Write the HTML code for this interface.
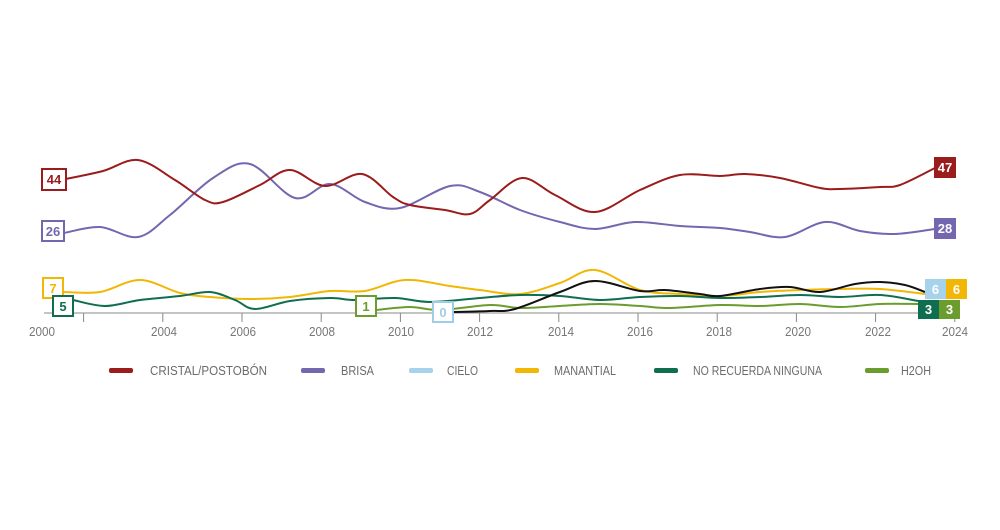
<!DOCTYPE html>
<html><head><meta charset="utf-8"><style>
html,body{margin:0;padding:0;background:#fff;}
svg{display:block;font-family:"Liberation Sans Narrow","Liberation Sans",sans-serif;}
</style></head><body>
<svg id="s" width="1000" height="530" viewBox="0 0 1000 530">
<g stroke="#888" stroke-width="1">
<line x1="44" y1="313" x2="955" y2="313"/>
</g>
<g id="ticks" stroke="#888" stroke-width="1"></g>
<g font-size="12.5" fill="#777" id="yl"></g>
<g id="lines" fill="none" stroke-width="2"></g>
<g font-size="13" font-weight="bold" text-anchor="middle">
<rect x="42" y="169" width="24" height="21" fill="#fff" stroke="#9b1c1c" stroke-width="2"/><text x="54" y="184" fill="#9b1c1c">44</text>
<rect x="42" y="221" width="22" height="20" fill="#fff" stroke="#7467b0" stroke-width="2"/><text x="53" y="236" fill="#7467b0">26</text>
<rect x="43" y="278" width="20" height="20" fill="#fff" stroke="#f2b705" stroke-width="2"/><text x="53" y="293" fill="#f2b705">7</text>
<rect x="53" y="296" width="20" height="20" fill="#fff" stroke="#0f6e4f" stroke-width="2"/><text x="63" y="311" fill="#0f6e4f">5</text>
<rect x="356" y="296" width="20" height="20" fill="#fff" stroke="#6a9c2e" stroke-width="2"/><text x="366" y="311" fill="#6a9c2e">1</text>
<rect x="433" y="302" width="20" height="20" fill="#fff" stroke="#9fcde8" stroke-width="2"/><text x="443" y="317" fill="#9fcde8">0</text>
<rect x="934" y="157" width="22" height="21" fill="#9b1c1c"/><text x="945" y="172" fill="#fff">47</text>
<rect x="934" y="218" width="22" height="21" fill="#7467b0"/><text x="945" y="233" fill="#fff">28</text>
<rect x="925" y="279" width="21" height="20" fill="#a6d2ec"/><text x="935.5" y="294" fill="#fff">6</text>
<rect x="946" y="279" width="21" height="20" fill="#f2b705"/><text x="956.5" y="294" fill="#fff">6</text>
<rect x="918" y="300" width="21" height="19" fill="#0f6e4f"/><text x="928.5" y="314" fill="#fff">3</text>
<rect x="939" y="300" width="21" height="19" fill="#6a9c2e"/><text x="949.5" y="314" fill="#fff">3</text>
</g>
<g font-size="12.5" fill="#6b6b6b">
<rect x="109" y="368" width="24" height="5" rx="2" fill="#9b1c1c"/><text x="150" y="375" textLength="117" lengthAdjust="spacingAndGlyphs">CRISTAL/POSTOBÓN</text>
<rect x="301" y="368" width="24" height="5" rx="2" fill="#7467b0"/><text x="341" y="375" textLength="33" lengthAdjust="spacingAndGlyphs">BRISA</text>
<rect x="409" y="368" width="24" height="5" rx="2" fill="#a6d2ec"/><text x="447" y="375" textLength="31" lengthAdjust="spacingAndGlyphs">CIELO</text>
<rect x="515" y="368" width="24" height="5" rx="2" fill="#f2b705"/><text x="554" y="375" textLength="62" lengthAdjust="spacingAndGlyphs">MANANTIAL</text>
<rect x="654" y="368" width="24" height="5" rx="2" fill="#0f6e4f"/><text x="693" y="375" textLength="129" lengthAdjust="spacingAndGlyphs">NO RECUERDA NINGUNA</text>
<rect x="865" y="368" width="24" height="5" rx="2" fill="#6a9c2e"/><text x="901" y="375" textLength="30" lengthAdjust="spacingAndGlyphs">H2OH</text>
</g>
</svg>
<script>
var ns="http://www.w3.org/2000/svg";
var t=document.getElementById("ticks");
for(var y=2001;y<=2023;y+=2){var x=44+(y-2000)*39.6;var l=document.createElementNS(ns,"line");l.setAttribute("x1",x);l.setAttribute("x2",x);l.setAttribute("y1",313);l.setAttribute("y2",322);t.appendChild(l);}
var yl=document.getElementById("yl");
var xs={2000:42,2004:164,2006:243,2008:322,2010:401,2012:480,2014:561,2016:640,2018:719,2020:798,2022:878,2024:955};
for(var k in xs){var tx=document.createElementNS(ns,"text");tx.setAttribute("x",xs[k]-13);tx.setAttribute("y",336);tx.setAttribute("textLength",26);tx.setAttribute("lengthAdjust","spacingAndGlyphs");tx.textContent=k;yl.appendChild(tx);}
function smooth(p){var d="M"+p[0][0]+","+p[0][1];for(var i=0;i<p.length-1;i++){var p0=p[i-1]||p[i],p1=p[i],p2=p[i+1],p3=p[i+2]||p2;var c1=[p1[0]+(p2[0]-p0[0])/6,p1[1]+(p2[1]-p0[1])/6],c2=[p2[0]-(p3[0]-p1[0])/6,p2[1]-(p3[1]-p1[1])/6];d+="C"+c1+" "+c2+" "+p2;}return d;}
var S=[
["#f2b705",[[63,292],[100,292],[140,280],[180,293],[210,297],[250,299],[290,297],[330,291],[365,291],[405,280],[450,286],[480,290],[520,294],[560,283],[595,270],[640,290],[680,294],[720,296],[760,292],[800,290],[840,289],[880,289],[925,294]]],
["#0f6e4f",[[73,300],[105,306],[140,300],[180,296],[210,292],[235,300],[255,309],[290,301],[330,298],[355,300],[395,298],[430,302],[480,298],[520,295],[560,296],[600,300],[640,297],[680,296],[720,298],[760,297],[800,295],[840,297],[880,295],[918,301]]],
["#6a9c2e",[[376,310],[410,307],[440,310],[490,305],[520,308],[560,306],[600,304],[640,306],[670,308],[720,305],[760,306],[800,304],[840,307],[880,304],[918,304]]],
["#111",[[453,312],[490,311],[515,309],[560,292],[595,281],[640,291],[665,290],[700,294],[720,296],[760,289],[790,287],[820,292],[855,284],[880,282],[905,285],[925,292]]],
["#7467b0",[[64,233],[100,227],[138,237],[170,215],[213,178],[250,164],[295,198],[330,184],[365,202],[400,208],[450,186],[480,192],[520,210],[560,222],[595,229],[635,222],[680,226],[720,228],[750,232],[785,237],[825,222],[860,231],[895,234],[935,229]]],
["#9b1c1c",[[66,179],[103,171],[138,160],[175,180],[205,200],[223,202],[260,185],[290,170],[325,186],[362,174],[393,197],[410,205],[445,210],[470,214],[490,200],[522,178],[555,195],[595,212],[640,190],[680,175],[720,176],[745,174],[780,178],[820,188],[840,189],[880,187],[900,185],[935,168]]]
];
var g=document.getElementById("lines");
S.forEach(function(s){var p=document.createElementNS(ns,"path");p.setAttribute("d",smooth(s[1]));p.setAttribute("stroke",s[0]);g.appendChild(p);});
</script>
</body></html>
